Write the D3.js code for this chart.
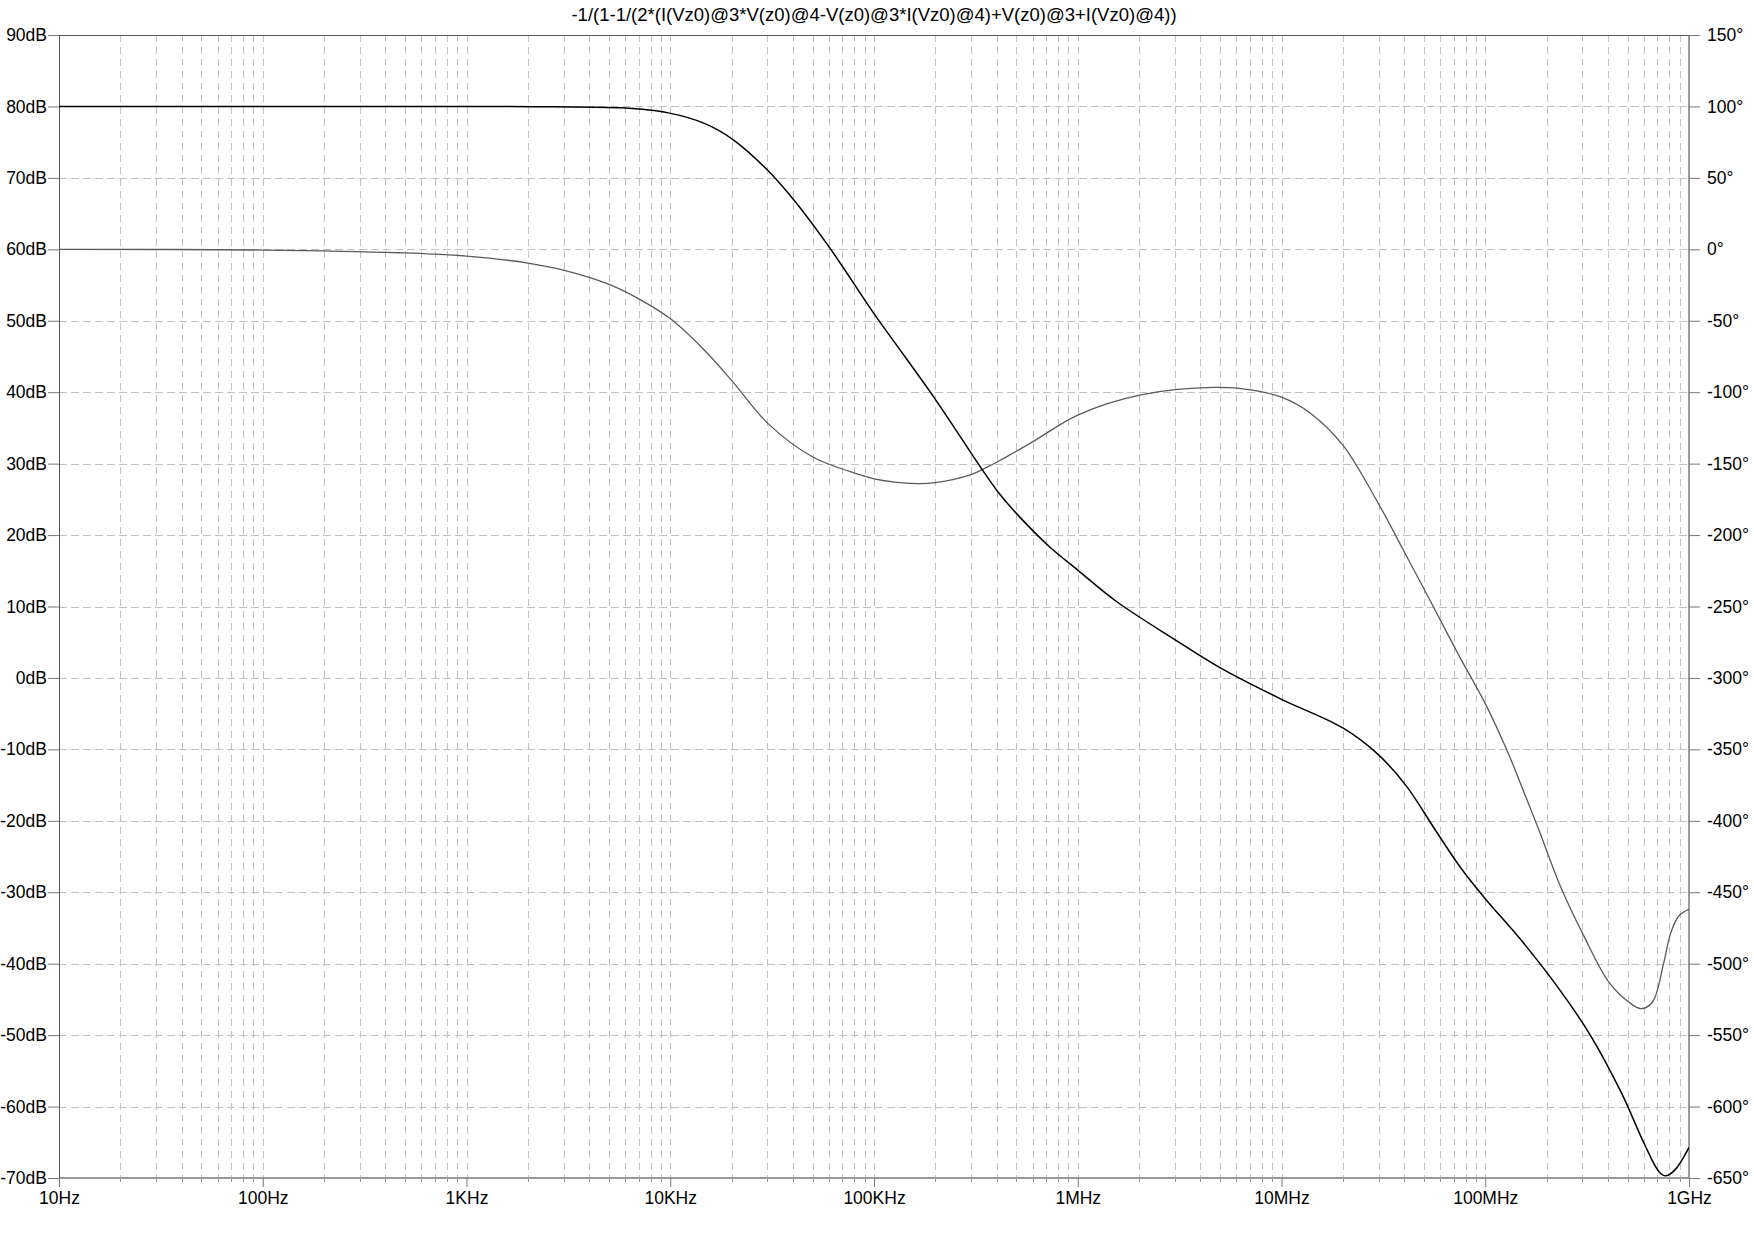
<!DOCTYPE html>
<html>
<head>
<meta charset="utf-8">
<script src="https://cdn.jsdelivr.net/npm/d3@7"></script>
<style>
  html, body { margin: 0; padding: 0; background: #fff; }
  svg { display: block; }
  text { font-family: "Liberation Sans", Arial, sans-serif; fill: #000; }
</style>
</head>
<body>
<svg id="chart" width="1754" height="1240"></svg>
<script>
// ---- data ----
const titleText = "-1/(1-1/(2*(I(Vz0)@3*V(z0)@4-V(z0)@3*I(Vz0)@4)+V(z0)@3+I(Vz0)@4))";

// magnitude trace: frequency (Hz) and dB
const magFreq = [10, 100, 1000, 2630, 5750, 9770, 14800, 20000, 29500, 40700, 60300,
  100000, 126000, 200000, 339000, 407000, 501000, 724000, 1000000, 1550000, 3020000,
  5010000, 10000000, 20000000, 29500000, 40700000, 57500000, 75900000,
  100000000, 151000000, 234000000, 331000000, 468000000, 603000000, 716000000,
  767000000, 851000000, 1000000000];
const magDb = [80.0, 80.0, 80.0, 79.95, 79.8, 79.1, 77.6, 75.5, 71.3, 66.8, 60.3,
  51.0, 47.0, 39.0, 29.2, 26.0, 23.0, 18.4, 15.1, 10.7, 5.3,
  1.4, -3.0, -7.0, -10.6, -15.0, -21.5, -26.6,
  -30.9, -36.8, -43.8, -50.2, -58.2, -65.2, -69.2,
  -69.7, -68.9, -65.7];

// phase trace: frequency (Hz) and degrees
const phaseFreq = [10, 100, 468, 1000, 2000, 3020, 5010, 7080, 10000, 14800, 20000,
  30200, 50100, 75900, 100000, 162000, 200000, 302000, 347000, 407000, 603000,
  1000000, 2040000, 4680000, 7080000, 10000000, 13800000, 20000000, 29900000,
  39800000, 53700000, 74100000, 100000000, 129000000, 151000000, 184000000,
  234000000, 302000000, 407000000, 507000000, 582000000, 661000000, 750000000,
  813000000, 891000000, 1000000000];
const phaseDeg = [0, -0.5, -2.4, -4.7, -9.6, -14.7, -24.5, -35.0, -48.5, -71.0, -91.7,
  -122, -145.4, -155.5, -160.6, -164, -163.3, -157.5, -153.5, -148.5, -134.6,
  -116, -101.9, -96.7, -98.4, -103.5, -114.5, -137, -178,
  -211, -246, -284, -318, -352, -376, -407,
  -446, -479.5, -513.5, -527, -531.5, -527, -500,
  -478.6, -466.6, -462];

// axis ticks
const xTickVals = [1e1, 1e2, 1e3, 1e4, 1e5, 1e6, 1e7, 1e8, 1e9];
const xTickLabels = ["10Hz", "100Hz", "1KHz", "10KHz", "100KHz", "1MHz", "10MHz", "100MHz", "1GHz"];
const dbTicks = [90, 80, 70, 60, 50, 40, 30, 20, 10, 0, -10, -20, -30, -40, -50, -60, -70];
const degTicks = [150, 100, 50, 0, -50, -100, -150, -200, -250, -300, -350, -400, -450, -500, -550, -600, -650];

// ---- layout ----
const L = 59, T = 35, R = 1689, B = 1178;
const svg = d3.select("#chart");

const x = d3.scaleLog().domain([10, 1e9]).range([L, R]);
const yDb = d3.scaleLinear().domain([-70, 90]).range([B, T]);
const yDeg = d3.scaleLinear().domain([-650, 150]).range([B, T]);

// minor frequency grid positions
const minorFreqs = [];
for (let e = 1; e < 9; e++) {
  for (let m = 1; m <= 9; m++) {
    const f = m * Math.pow(10, e);
    if (f > 10 && f < 1e9) minorFreqs.push(f);
  }
}

const grid = svg.append("g");
grid.selectAll("line.v").data(minorFreqs).enter().append("line")
  .attr("x1", d => Math.round(x(d)) + 0.5).attr("x2", d => Math.round(x(d)) + 0.5)
  .attr("y1", T).attr("y2", B)
  .attr("stroke", "#c0c0c0").attr("stroke-width", 1)
  .attr("stroke-dasharray", "7,5");
grid.selectAll("line.h").data(dbTicks.filter(d => d !== 90 && d !== -70)).enter().append("line")
  .attr("x1", L).attr("x2", R)
  .attr("y1", d => Math.round(yDb(d)) + 0.5).attr("y2", d => Math.round(yDb(d)) + 0.5)
  .attr("stroke", "#c0c0c0").attr("stroke-width", 1)
  .attr("stroke-dasharray", "8,4");

// frame
svg.append("line").attr("x1", L).attr("x2", R).attr("y1", B).attr("y2", B)
  .attr("stroke", "#9a9a9a").attr("stroke-width", 2);
svg.append("line").attr("x1", R).attr("x2", R).attr("y1", T).attr("y2", B)
  .attr("stroke", "#9a9a9a").attr("stroke-width", 2);
svg.append("line").attr("x1", L).attr("x2", R).attr("y1", T + 0.5).attr("y2", T + 0.5)
  .attr("stroke", "#555").attr("stroke-width", 1);
svg.append("line").attr("x1", L + 0.5).attr("x2", L + 0.5).attr("y1", T).attr("y2", B)
  .attr("stroke", "#555").attr("stroke-width", 1);

const fontSize = 17.5;
// left axis (dB)
const leftAxis = d3.axisLeft(yDb).tickValues(dbTicks).tickFormat(d => d + "dB")
  .tickSize(11).tickPadding(1);
const gl = svg.append("g").attr("transform", `translate(${L},0)`).call(leftAxis);
gl.select(".domain").remove();
gl.selectAll(".tick line").attr("stroke", "#777");
gl.selectAll(".tick text").attr("font-size", fontSize).attr("font-family", "Liberation Sans, Arial, sans-serif").attr("fill", "#000");

// right axis (degrees)
const rightAxis = d3.axisRight(yDeg).tickValues(degTicks).tickFormat(d => d + "°")
  .tickSize(11).tickPadding(7);
const gr = svg.append("g").attr("transform", `translate(${R},0)`).call(rightAxis);
gr.select(".domain").remove();
gr.selectAll(".tick line").attr("stroke", "#777");
gr.selectAll(".tick text").attr("font-size", fontSize).attr("font-family", "Liberation Sans, Arial, sans-serif").attr("fill", "#000");

// bottom axis
const bottomAxis = d3.axisBottom(x).tickValues(xTickVals)
  .tickFormat((d, i) => xTickLabels[i]).tickSize(9).tickPadding(5);
const gb = svg.append("g").attr("transform", `translate(0,${B})`).call(bottomAxis);
gb.select(".domain").remove();
gb.selectAll(".tick line").attr("stroke", "#777");
gb.selectAll(".tick text").attr("font-size", fontSize).attr("font-family", "Liberation Sans, Arial, sans-serif").attr("fill", "#000");
svg.append("g").selectAll("line").data(minorFreqs.filter(f => !xTickVals.includes(f))).enter().append("line")
  .attr("x1", d => Math.round(x(d)) + 0.5).attr("x2", d => Math.round(x(d)) + 0.5)
  .attr("y1", B).attr("y2", B + 4).attr("stroke", "#999");

// title
svg.append("text").attr("x", (L + R) / 2).attr("y", 21)
  .attr("text-anchor", "middle").attr("font-size", 18.5)
  .text(titleText);

// traces
svg.append("clipPath").attr("id", "plotclip").append("rect")
  .attr("x", L).attr("y", T - 2).attr("width", R - L).attr("height", B - T + 4);

const smooth = d3.curveCatmullRom.alpha(0.5);
const magLine = d3.line().x((d, i) => x(magFreq[i])).y(d => yDb(d)).curve(smooth);
const phaseLine = d3.line().x((d, i) => x(phaseFreq[i])).y(d => yDeg(d)).curve(smooth);

svg.append("path").attr("d", phaseLine(phaseDeg))
  .attr("fill", "none").attr("stroke", "#5a5a5a").attr("stroke-width", 1.3)
  .attr("clip-path", "url(#plotclip)");
svg.append("path").attr("d", magLine(magDb))
  .attr("fill", "none").attr("stroke", "#000").attr("stroke-width", 1.5)
  .attr("clip-path", "url(#plotclip)");
</script>
</body>
</html>
